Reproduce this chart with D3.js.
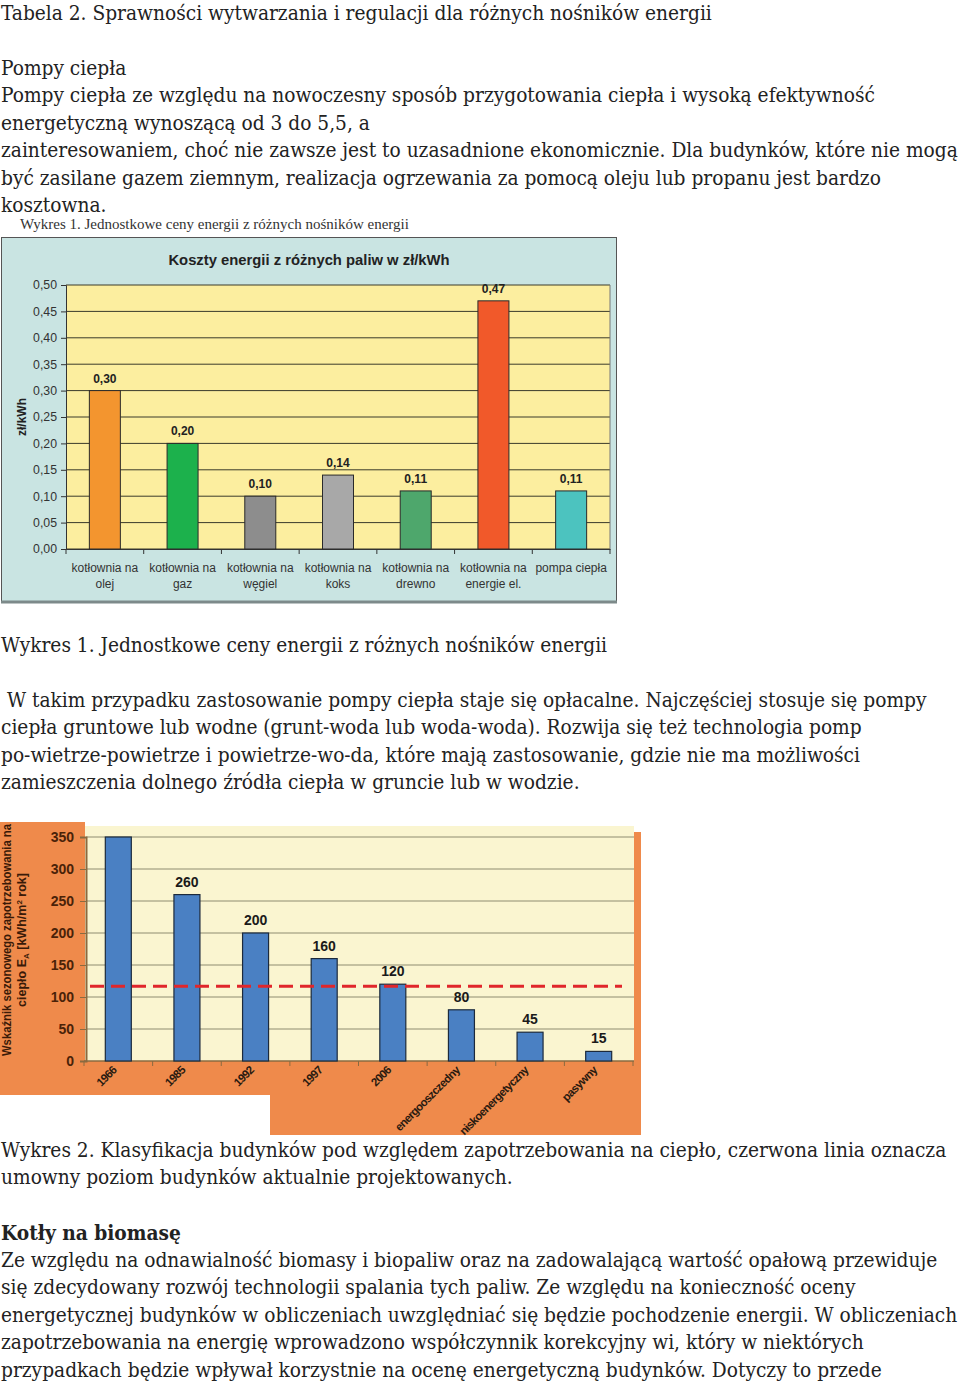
<!DOCTYPE html>
<html><head><meta charset="utf-8">
<script src="https://cdn.jsdelivr.net/npm/d3@7/dist/d3.min.js"></script>
<style>body{margin:0;background:#fff;overflow:hidden}</style></head>
<body><svg id="c" width="960" height="1382"></svg>
<script>
// ---- data ----
const fuelCategories = [["kotłownia na","olej"],["kotłownia na","gaz"],["kotłownia na","węgiel"],["kotłownia na","koks"],["kotłownia na","drewno"],["kotłownia na","energie el."],["pompa ciepła",""]];
const fuelCosts = [0.30,0.20,0.10,0.14,0.11,0.47,0.11];
const fuelCostLabels = ["0,30","0,20","0,10","0,14","0,11","0,47","0,11"];
const fuelColors = ["#f3952f","#1cb14c","#8d8d8d","#a8a8a8","#4ea76c","#f1592a","#4cc3bf"];
const costTicks = [0,0.05,0.10,0.15,0.20,0.25,0.30,0.35,0.40,0.45,0.50];

const buildingClasses = ["1966","1985","1992","1997","2006","energooszczedny","niskoenergetyczny","pasywny"];
const heatDemand = [350,260,200,160,120,80,45,15];
const demandTicks = [0,50,100,150,200,250,300,350];
const currentDesignLevel = 120;

const textTop = ["Tabela 2. Sprawności wytwarzania i regulacji dla różnych nośników energii"];
const textP1 = ["Pompy ciepła",
"Pompy ciepła ze względu na nowoczesny sposób przygotowania ciepła i wysoką efektywność",
"energetyczną wynoszącą od 3 do 5,5, a",
"zainteresowaniem, choć nie zawsze jest to uzasadnione ekonomicznie. Dla budynków, które nie mogą",
"być zasilane gazem ziemnym, realizacja ogrzewania za pomocą oleju lub propanu jest bardzo",
"kosztowna."];
const textCap1 = ["Wykres 1. Jednostkowe ceny energii z różnych nośników energii"];
const textP2 = [" W takim przypadku zastosowanie pompy ciepła staje się opłacalne. Najczęściej stosuje się pompy",
"ciepła gruntowe lub wodne (grunt-woda lub woda-woda). Rozwija się też technologia pomp",
"po-wietrze-powietrze i powietrze-wo-da, które mają zastosowanie, gdzie nie ma możliwości",
"zamieszczenia dolnego źródła ciepła w gruncie lub w wodzie."];
const textCap2 = ["Wykres 2. Klasyfikacja budynków pod względem zapotrzebowania na ciepło, czerwona linia oznacza",
"umowny poziom budynków aktualnie projektowanych."];
const textHead = ["Kotły na biomasę"];
const textP3 = ["Ze względu na odnawialność biomasy i biopaliw oraz na zadowalającą wartość opałową przewiduje",
"się zdecydowany rozwój technologii spalania tych paliw. Ze względu na konieczność oceny",
"energetycznej budynków w obliczeniach uwzględniać się będzie pochodzenie energii. W obliczeniach",
"zapotrzebowania na energię wprowadzono współczynnik korekcyjny wi, który w niektórych",
"przypadkach będzie wpływał korzystnie na ocenę energetyczną budynków. Dotyczy to przede"];

const svg = d3.select("#c");
const serif = "'DejaVu Serif Condensed','DejaVu Serif',serif";
const sans = "'Liberation Sans',Arial,sans-serif";

function block(lines, y0, opts={}) {
  const lh = 27.45;
  svg.append("g").selectAll("text").data(lines).join("text")
    .attr("x", 1).attr("y", (d,i)=>y0 + i*lh + 7)
    .attr("font-family", serif).attr("font-size", 20.7)
    .attr("font-stretch","condensed")
    .attr("font-weight", opts.bold ? "bold" : "normal")
    .attr("fill", "#222").style("white-space","pre")
    .text(d=>d);
}
block(textTop, 13);
block(textP1, 68);
block(textCap1, 645);
block(textP2, 700);
block(textCap2, 1150);
block(textHead, 1233, {bold:true});
block(textP3, 1260);

// ---- Chart 1 ----
const g1 = svg.append("g");
g1.append("text").attr("x",20).attr("y",229).attr("font-family","'Liberation Serif',serif").attr("font-size",15)
  .attr("fill","#333").text("Wykres 1. Jednostkowe ceny energii z różnych nośników energii");
g1.append("rect").attr("x",1.5).attr("y",237.5).attr("width",615).attr("height",364).attr("fill","#c9e4e2").attr("stroke","#555").attr("stroke-width",1);
g1.append("line").attr("x1",1).attr("x2",617).attr("y1",602).attr("y2",602).attr("stroke","#7d8a8a").attr("stroke-width",3);
g1.append("text").attr("x",309).attr("y",265).attr("text-anchor","middle").attr("font-family",sans).attr("font-weight","bold").attr("font-size",14.8).attr("fill","#222")
  .text("Koszty energii z różnych paliw w zł/kWh");

const x1 = d3.scaleBand().domain(d3.range(fuelCosts.length)).range([66,610]).paddingInner(0).paddingOuter(0);
const y1 = d3.scaleLinear().domain([0,0.5]).range([549,285]);
g1.append("rect").attr("x",66).attr("y",285).attr("width",544).attr("height",264).attr("fill","#fcee9f");
g1.append("g").selectAll("line").data(costTicks).join("line")
  .attr("x1",66).attr("x2",610).attr("y1",d=>y1(d)).attr("y2",d=>y1(d)).attr("stroke","#3a3a2a").attr("stroke-width",1);
g1.append("line").attr("x1",610).attr("x2",610).attr("y1",285).attr("y2",549).attr("stroke","#777").attr("stroke-width",1);
const ax1 = g1.append("g").attr("transform","translate(66,0)")
  .call(d3.axisLeft(y1).tickValues(costTicks).tickSize(5).tickFormat(d=>d3.format(".2f")(d).replace(".",",")));
ax1.select(".domain").attr("stroke","#333");
ax1.selectAll("line").attr("stroke","#333");
ax1.selectAll("text").attr("font-family",sans).attr("font-size",12.3).attr("fill","#333").attr("dx",-1);
const bx1 = g1.append("g").attr("transform","translate(0,549)")
  .call(d3.axisBottom(x1).tickSize(0).tickFormat(""));
bx1.select(".domain").attr("stroke","#333");
g1.append("g").selectAll("line").data(d3.range(fuelCosts.length+1)).join("line")
  .attr("x1",d=>66+d*x1.step()).attr("x2",d=>66+d*x1.step()).attr("y1",549).attr("y2",554).attr("stroke","#333");
const bw1 = 31;
g1.append("g").selectAll("rect").data(fuelCosts).join("rect")
  .attr("x",(d,i)=>x1(i)+x1.bandwidth()/2-bw1/2).attr("y",d=>y1(d)).attr("width",bw1).attr("height",d=>y1(0)-y1(d))
  .attr("fill",(d,i)=>fuelColors[i]).attr("stroke","#2a2a2a").attr("stroke-width",1);
g1.append("g").selectAll("text").data(fuelCosts).join("text")
  .attr("x",(d,i)=>x1(i)+x1.bandwidth()/2).attr("y",d=>y1(d)-8).attr("text-anchor","middle")
  .attr("font-family",sans).attr("font-weight","bold").attr("font-size",12).attr("fill","#222")
  .text((d,i)=>fuelCostLabels[i]);
const lab1 = g1.append("g").selectAll("text").data(fuelCategories).join("text")
  .attr("text-anchor","middle").attr("font-family",sans).attr("font-size",12).attr("fill","#333");
lab1.append("tspan").attr("x",(d,i)=>x1(i)+x1.bandwidth()/2).attr("y",572).text(d=>d[0]);
lab1.append("tspan").attr("x",(d,i)=>x1(i)+x1.bandwidth()/2).attr("y",588).text(d=>d[1]);
g1.append("text").attr("transform","translate(26,417) rotate(-90)").attr("text-anchor","middle")
  .attr("font-family",sans).attr("font-weight","bold").attr("font-size",12).attr("fill","#222").text("zł/kWh");

// ---- Chart 2 ----
const g2 = svg.append("g");
const orange = "#ef8a4b";
g2.append("rect").attr("x",0).attr("y",822).attr("width",85).attr("height",273).attr("fill",orange);
g2.append("rect").attr("x",0).attr("y",1061).attr("width",641).attr("height",34).attr("fill",orange);
g2.append("rect").attr("x",270).attr("y",1095).attr("width",371).attr("height",40).attr("fill",orange);
g2.append("rect").attr("x",634).attr("y",832).attr("width",7).attr("height",229).attr("fill",orange);
g2.append("rect").attr("x",85).attr("y",826).attr("width",549).attr("height",235).attr("fill","#faf5d0");

const x2 = d3.scaleBand().domain(buildingClasses).range([84,633]);
const y2 = d3.scaleLinear().domain([0,350]).range([1061,837]);
g2.append("g").selectAll("line").data(demandTicks.filter(d=>d>0)).join("line")
  .attr("x1",86).attr("x2",634).attr("y1",d=>y2(d)).attr("y2",d=>y2(d)).attr("stroke","#8e8c70").attr("stroke-width",1);
const ax2 = g2.append("g").attr("transform","translate(86,0)")
  .call(d3.axisLeft(y2).tickValues(demandTicks).tickSize(6).tickFormat(d3.format("d")));
ax2.select(".domain").attr("stroke","#8a6a40").attr("stroke-width",2);
ax2.selectAll("line").attr("stroke","#8a6a40");
ax2.selectAll("text").attr("font-family",sans).attr("font-weight","bold").attr("font-size",14).attr("fill","#4a2208").attr("dx",-3);
g2.append("line").attr("x1",84).attr("x2",634).attr("y1",1061).attr("y2",1061).attr("stroke","#8a6a40").attr("stroke-width",1.5);
g2.append("g").selectAll("line").data(d3.range(buildingClasses.length+1)).join("line")
  .attr("x1",d=>84+d*x2.step()).attr("x2",d=>84+d*x2.step()).attr("y1",1061).attr("y2",1066).attr("stroke","#8a6a40");
const bw2 = 26;
g2.append("g").selectAll("rect").data(heatDemand).join("rect")
  .attr("x",(d,i)=>x2(buildingClasses[i])+x2.bandwidth()/2-bw2/2).attr("y",d=>y2(d)).attr("width",bw2).attr("height",d=>y2(0)-y2(d))
  .attr("fill","#4a80c3").attr("stroke","#1c2a3c").attr("stroke-width",1.2);
g2.append("g").selectAll("text").data(heatDemand.map((v,i)=>({v,i})).filter(d=>d.v<350)).join("text")
  .attr("x",d=>x2(buildingClasses[d.i])+x2.bandwidth()/2).attr("y",d=>y2(d.v)-8).attr("text-anchor","middle")
  .attr("font-family",sans).attr("font-weight","bold").attr("font-size",14).attr("fill","#1a1a1a").text(d=>d.v);
g2.append("line").attr("x1",90).attr("x2",622).attr("y1",y2(currentDesignLevel)+2).attr("y2",y2(currentDesignLevel)+2)
  .attr("stroke","#e0262b").attr("stroke-width",3).attr("stroke-dasharray","14,7");
g2.append("g").selectAll("text").data(buildingClasses).join("text")
  .attr("transform",d=>`translate(${x2(d)+x2.bandwidth()/2-1},${1071}) rotate(-45)`)
  .attr("text-anchor","end").attr("font-family",sans).attr("font-weight","bold").attr("font-size",11.5)
  .attr("letter-spacing",-0.7).attr("fill","#2a1a10").text(d=>d);
const yl = g2.append("text").attr("transform","translate(0,940) rotate(-90)").attr("text-anchor","middle")
  .attr("font-family",sans).attr("font-weight","bold").attr("font-size",12.5).attr("fill","#3a1a08");
yl.append("tspan").attr("x",0).attr("y",11).attr("textLength",232).attr("lengthAdjust","spacingAndGlyphs").text("Wskaźnik sezonowego zapotrzebowania na");
const t2 = yl.append("tspan").attr("x",0).attr("y",26);
t2.append("tspan").text("ciepło E");
t2.append("tspan").attr("font-size",8).attr("dy",3).text("A");
t2.append("tspan").attr("dy",-3).text(" [kWh/m");
t2.append("tspan").attr("font-size",8).attr("dy",-4).text("2");
t2.append("tspan").attr("dy",4).text(" rok]");
</script></body></html>
